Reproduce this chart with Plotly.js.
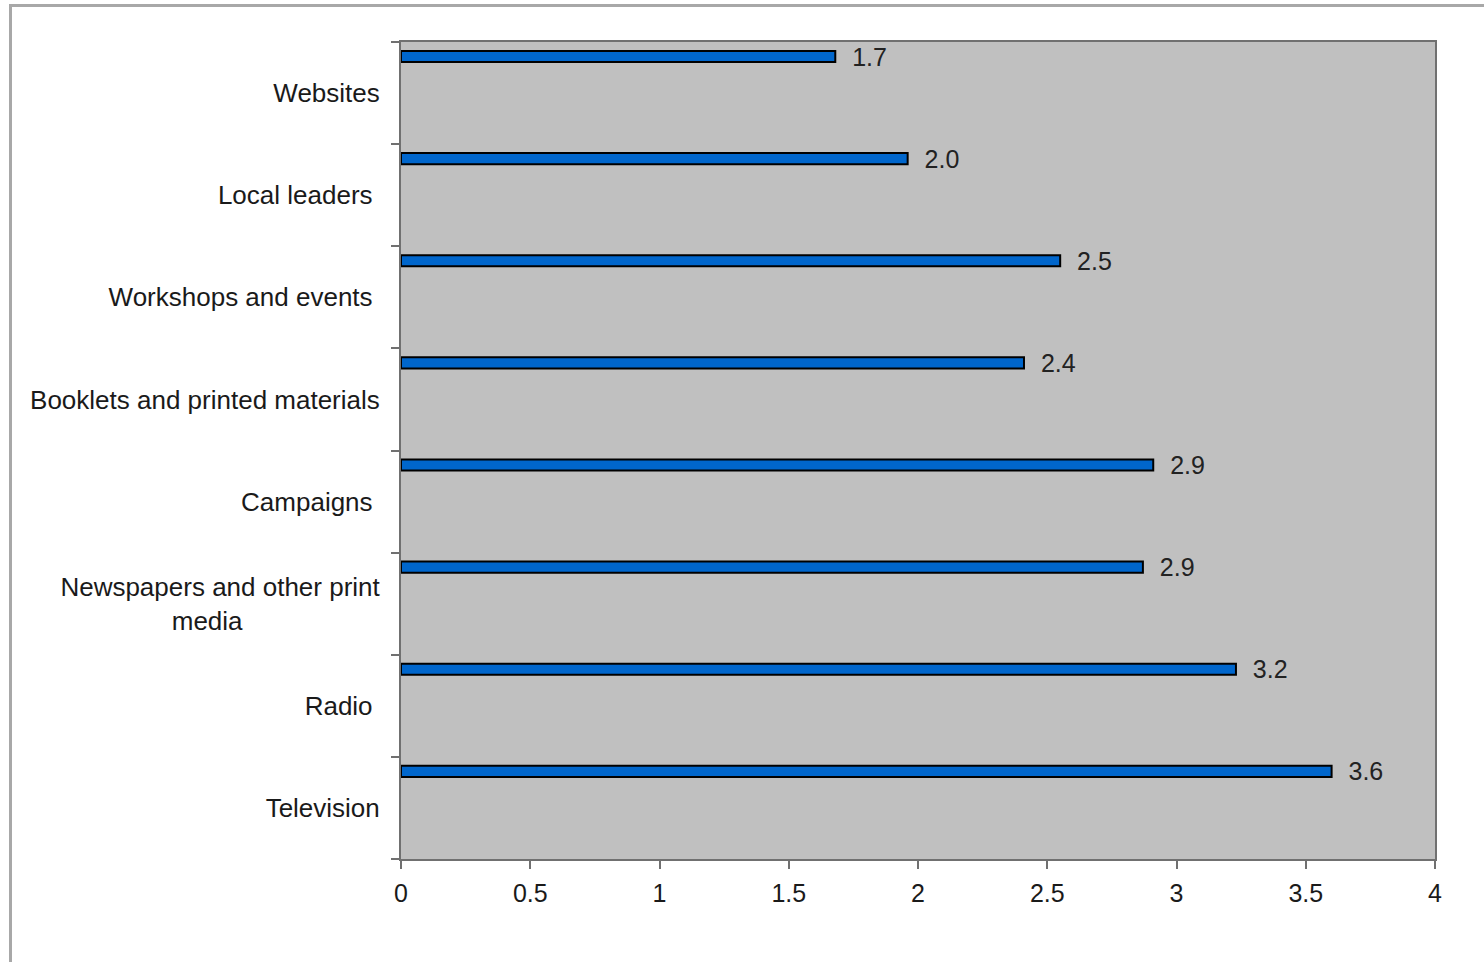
<!DOCTYPE html>
<html>
<head>
<meta charset="utf-8">
<script src="https://cdn.plot.ly/plotly-3.0.1.min.js"></script>
<style>
  html, body { margin: 0; padding: 0; width: 1484px; height: 962px; overflow: hidden; background: #ffffff; }
  #frame { position: absolute; left: 9px; top: 4px; width: 1600px; height: 1100px; border: 3px solid #a8a8a8; box-sizing: border-box; }
  #chart { position: absolute; left: 0; top: 0; width: 1484px; height: 962px; }
</style>
</head>
<body>
<div id="frame"></div>
<div id="chart"></div>
<script>
// Data (bottom to top, as drawn)
const categories = [
  "Television",
  "Radio",
  "Newspapers and other print media",
  "Campaigns",
  "Booklets and printed materials",
  "Workshops and events",
  "Local leaders",
  "Websites"
];
const tickLabels = [
  "Television",
  "Radio\u00a0",
  "Newspapers and other print<br>media" + "\u00a0".repeat(19),
  "Campaigns\u00a0",
  "Booklets and printed materials",
  "Workshops and events\u00a0",
  "Local leaders\u00a0",
  "Websites"
];
const values = [3.6, 3.23, 2.87, 2.91, 2.41, 2.55, 1.96, 1.68];
const xTicks = [0, 0.5, 1, 1.5, 2, 2.5, 3, 3.5, 4];

const fontFamily = "Liberation Sans, Arial, sans-serif";

const trace = {
  type: "bar",
  orientation: "h",
  y: categories,
  x: values,
  width: 0.108,
  offset: 0.304,
  marker: { color: "#0066cc", line: { color: "#000000", width: 2 } },
  texttemplate: "\u00a0\u00a0%{x:.1f}",
  textposition: "outside",
  constraintext: "none",
  cliponaxis: false,
  textfont: { family: fontFamily, size: 25, color: "#222222" },
  hoverinfo: "x+y"
};

const layout = {
  width: 1484,
  height: 962,
  margin: { l: 401, r: 49, t: 42, b: 103, pad: 0 },
  paper_bgcolor: "rgba(0,0,0,0)",
  plot_bgcolor: "#c0c0c0",
  showlegend: false,
  font: { family: fontFamily, size: 26, color: "#1a1a1a" },
  xaxis: {
    range: [0, 4],
    tickvals: xTicks,
    ticktext: xTicks.map(String),
    ticks: "outside",
    ticklen: 8,
    tickwidth: 2,
    tickcolor: "#707070",
    showline: true,
    linecolor: "#707070",
    linewidth: 2,
    mirror: true,
    showgrid: false,
    zeroline: false,
    tickfont: { family: fontFamily, size: 25, color: "#1a1a1a" },
    ticklabelstandoff: 3
  },
  yaxis: {
    type: "category",
    categoryorder: "array",
    categoryarray: categories,
    tickvals: categories,
    ticktext: tickLabels,
    range: [-0.5, categories.length - 0.5],
    tickson: "boundaries",
    ticks: "outside",
    ticklen: 8,
    tickwidth: 2,
    tickcolor: "#707070",
    showline: true,
    linecolor: "#707070",
    linewidth: 2,
    mirror: true,
    showgrid: false,
    zeroline: false,
    tickfont: { family: fontFamily, size: 26, color: "#1a1a1a" },
    ticklabelstandoff: 14
  }
};

Plotly.newPlot("chart", [trace], layout, { displayModeBar: false, staticPlot: true });
</script>
</body>
</html>
